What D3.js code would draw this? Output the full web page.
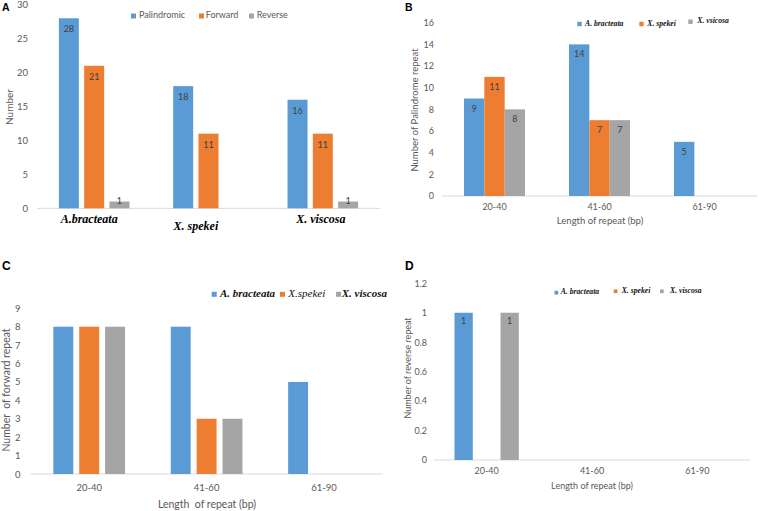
<!DOCTYPE html>
<html><head><meta charset="utf-8">
<script src="https://cdn.jsdelivr.net/npm/d3@7"></script>
<style>body{margin:0;background:#fff}</style>
</head><body><svg id="c" width="758" height="511"></svg>
<script>
// ---------- DATA ----------
// Panel A
const speciesA = ["A.bracteata", "X. spekei", "X. viscosa"];
const typeNamesA = ["Palindromic", "Forward", "Reverse"];
const palindromicA = [28, 18, 16];
const forwardA = [21, 11, 11];
const reverseA = [1, 0, 1];
const yTicksA = [0, 5, 10, 15, 20, 25, 30];
// Length classes (B, C, D)
const lengthCats = ["20-40", "41-60", "61-90"];
// Panel B (palindrome repeats)
const legendNamesB = ["A. bracteata", "X. spekei", "X. vsicosa"];
const bracteataB = [9, 14, 5];
const spekeiB = [11, 7, 0];
const viscosaB = [8, 7, 0];
const yTicksB = [0, 2, 4, 6, 8, 10, 12, 14, 16];
// Panel C (forward repeats)
const legendNamesC = ["A. bracteata", "X.spekei", "X. viscosa"];
const bracteataC = [8, 8, 5];
const spekeiC = [8, 3, 0];
const viscosaC = [8, 3, 0];
const yTicksC = [0, 1, 2, 3, 4, 5, 6, 7, 8, 9];
// Panel D (reverse repeats)
const legendNamesD = ["A. bracteata", "X. spekei", "X. viscosa"];
const bracteataD = [1, 0, 0];
const spekeiD = [0, 0, 0];
const viscosaD = [1, 0, 0];
const yTicksD = [0, 0.2, 0.4, 0.6, 0.8, 1, 1.2];

const colors = ["#5B9BD5", "#ED7D31", "#A5A5A5"];
const SANS = "Lato, 'Open Sans', sans-serif";
const SERIF = "'Liberation Serif', 'DejaVu Serif', serif";

const svg = d3.select("#c");

function drawPanel(o) {
  const g = svg.append("g");
  const n = o.series.length;
  const x0 = d3.scaleBand().domain(o.cats).range(o.xRange).padding(0);
  const x1 = d3.scaleBand().domain(d3.range(n)).range([0, o.groupW]).paddingInner(o.innerPad).paddingOuter(0);
  const y = d3.scaleLinear().domain([0, o.yTicks[o.yTicks.length - 1]]).range(o.yRange);
  const off = (x0.bandwidth() - o.groupW) / 2;

  // baseline
  g.append("line").attr("x1", o.xRange[0]).attr("x2", o.xRange[1])
    .attr("y1", y(0)).attr("y2", y(0)).attr("stroke", "#D9D9D9").attr("stroke-width", 1);

  // y axis
  const ya = g.append("g").attr("transform", `translate(${o.xRange[0]},0)`)
    .call(d3.axisLeft(y).tickValues(o.yTicks).tickSize(0).tickPadding(o.yPad)
      .tickFormat(o.yFmt || d3.format("d")));
  ya.select(".domain").remove();
  ya.selectAll("text").attr("fill", "#595959").style("font-family", SANS).style("font-size", o.tickFont + "px");

  // bars
  const cells = [];
  o.cats.forEach((c, i) => o.series.forEach((arr, s) => {
    if (arr[i] > 0) cells.push({ c, s, v: arr[i] });
  }));
  g.selectAll("rect.bar").data(cells).join("rect").attr("class", "bar")
    .attr("x", d => x0(d.c) + off + x1(d.s))
    .attr("y", d => y(d.v))
    .attr("width", x1.bandwidth())
    .attr("height", d => y(0) - y(d.v))
    .attr("fill", d => colors[d.s]);

  if (o.showLabels) {
    g.selectAll("text.lab").data(cells).join("text").attr("class", "lab")
      .attr("x", d => x0(d.c) + off + x1(d.s) + x1.bandwidth() / 2)
      .attr("y", d => (y(0) - y(d.v) < o.labDy + 2) ? y(d.v) + 2 : y(d.v) + o.labDy)
      .attr("text-anchor", "middle").attr("fill", "#404040")
      .style("font-family", SANS).style("font-size", o.labFont + "px")
      .text(d => d.v);
  }

  // x axis labels
  const xa = g.append("g").attr("transform", `translate(0,${y(0)})`)
    .call(d3.axisBottom(x0).tickSize(0).tickPadding(o.xPad));
  xa.select(".domain").remove();
  const xt = xa.selectAll("text").attr("fill", o.xSerif ? "#000" : "#595959");
  if (o.xSerif) {
    xt.style("font-family", SERIF).style("font-size", o.xFont + "px")
      .style("font-weight", "bold").style("font-style", "italic")
      .attr("x", (d, i) => o.xOffsets[i][0]).attr("y", (d, i) => o.xPad + o.xOffsets[i][1]);
  } else {
    xt.style("font-family", SANS).style("font-size", o.xFont + "px");
  }

  // axis titles
  g.append("text").attr("transform", `translate(${o.yTitle.x},${o.yTitle.y}) rotate(-90)`)
    .attr("text-anchor", "middle").attr("dominant-baseline", "middle")
    .attr("fill", "#595959").style("font-family", SANS).style("font-size", o.yTitle.size + "px")
    .style("white-space", "pre").text(o.yTitle.text);
  if (o.xTitle) {
    g.append("text").attr("x", o.xTitle.x).attr("y", o.xTitle.y)
      .attr("text-anchor", "middle").attr("dominant-baseline", "middle")
      .attr("fill", "#595959").style("font-family", SANS).style("font-size", o.xTitle.size + "px")
      .style("white-space", "pre").text(o.xTitle.text);
  }

  // legend
  const lg = g.append("g");
  o.names.forEach((nm, i) => {
    const L = o.legend[i];
    lg.append("rect").attr("x", L.sx).attr("y", L.y - o.legendSq / 2)
      .attr("width", o.legendSq).attr("height", o.legendSq).attr("fill", colors[i]);
    const t = lg.append("text").attr("x", L.tx).attr("y", L.y).attr("dominant-baseline", "middle")
      .style("font-size", o.legendFont + "px").text(nm);
    if (o.legendSerif) {
      t.style("font-family", SERIF).style("font-style", "italic")
        .style("font-weight", L.normal ? "normal" : "bold").attr("fill", "#111");
    } else {
      t.style("font-family", SANS).attr("fill", "#595959");
    }
  });

  // panel letter
  g.append("text").attr("x", o.letter.x).attr("y", o.letter.y)
    .style("font-family", "'Liberation Sans', Arial, sans-serif").style("font-weight", "bold")
    .style("font-size", o.letter.size + "px").attr("fill", "#000").text(o.letter.t);
}

// Panel A
drawPanel({
  cats: speciesA, series: [palindromicA, forwardA, reverseA], names: typeNamesA,
  yTicks: yTicksA, xRange: [37, 380], yRange: [208.3, 4.7], groupW: 70.6, innerPad: 0.21,
  yPad: 9, tickFont: 9.5, showLabels: true, labDy: 14, labFont: 9,
  xSerif: true, xPad: 6, xFont: 12,
  xOffsets: [[-5, 0], [-12.6, 7.4], [-2, 0.5]],
  yTitle: { x: 10, y: 107, text: "Number", size: 10 },
  legendSerif: false, legendFont: 9, legendSq: 5,
  legend: [{ sx: 131, tx: 139, y: 16 }, { sx: 199, tx: 205.7, y: 16 }, { sx: 249, tx: 256.7, y: 16 }],
  letter: { x: 2, y: 11, t: "A", size: 10.5 }
});

// Panel B
drawPanel({
  cats: lengthCats, series: [bracteataB, spekeiB, viscosaB], names: legendNamesB,
  yTicks: yTicksB, xRange: [442, 757], yRange: [196, 22.7], groupW: 61, innerPad: 0,
  yPad: 8, tickFont: 9, showLabels: true, labDy: 13, labFont: 9,
  xSerif: false, xPad: 8, xFont: 9,
  yTitle: { x: 416, y: 110, text: "Number of Palindrome repeat", size: 9.5 },
  xTitle: { x: 600, y: 222, text: "Length of repeat (bp)", size: 9.5 },
  legendSerif: true, legendFont: 7.7, legendSq: 4.4,
  legend: [{ sx: 577.3, tx: 585, y: 24 }, { sx: 639.3, tx: 647.3, y: 24 }, { sx: 688.3, tx: 697.3, y: 21.7 }],
  letter: { x: 405, y: 11, t: "B", size: 10.5 }
});

// Panel C
drawPanel({
  cats: lengthCats, series: [bracteataC, spekeiC, viscosaC], names: legendNamesC,
  yTicks: yTicksC, xRange: [30.5, 382.7], yRange: [474, 308.3], groupW: 71.7, innerPad: 0.23,
  yPad: 10, tickFont: 9.5, showLabels: false,
  xSerif: false, xPad: 10, xFont: 9.5,
  yTitle: { x: 7, y: 390, text: "Number  of forward repeat", size: 10.5 },
  xTitle: { x: 207, y: 505, text: "Length  of repeat (bp)", size: 10.5 },
  legendSerif: true, legendFont: 11, legendSq: 5,
  legend: [{ sx: 211.7, tx: 220, y: 294.3 }, { sx: 280, tx: 288.3, y: 294.3, normal: true }, { sx: 336, tx: 341.7, y: 294.3 }],
  letter: { x: 2, y: 269.5, t: "C", size: 12 }
});

// Panel D
drawPanel({
  cats: lengthCats, series: [bracteataD, spekeiD, viscosaD], names: legendNamesD,
  yTicks: yTicksD, xRange: [434, 750], yRange: [460, 283.3], groupW: 64.3, innerPad: 0.206,
  yPad: 7, tickFont: 9, showLabels: true, labDy: 11.5, labFont: 9,
  yFmt: d3.format("~g"),
  xSerif: false, xPad: 8, xFont: 9,
  yTitle: { x: 408.5, y: 368, text: "Number of reverse repeat", size: 9 },
  xTitle: { x: 592, y: 487, text: "Length of repeat (bp)", size: 9 },
  legendSerif: true, legendFont: 7.7, legendSq: 3.7,
  legend: [{ sx: 554.5, tx: 560.7, y: 292.7 }, { sx: 613.7, tx: 621.7, y: 291.3 }, { sx: 660, tx: 670, y: 291.3 }],
  letter: { x: 405, y: 269.5, t: "D", size: 12 }
});
</script>
</body></html>
